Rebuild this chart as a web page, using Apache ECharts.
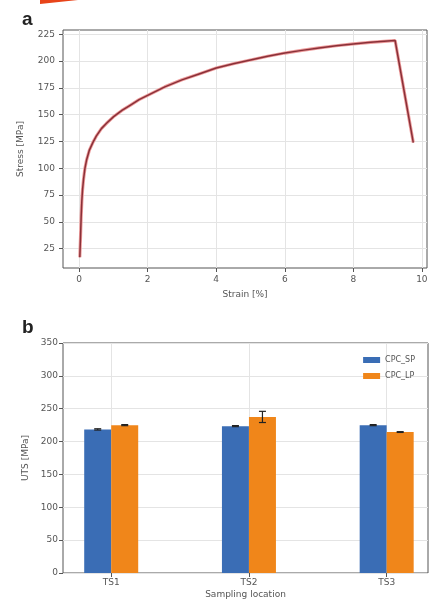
<!DOCTYPE html>
<html>
<head>
<meta charset="utf-8">
<script src="https://cdn.jsdelivr.net/npm/echarts@6/dist/echarts.min.js"></script>
<style>
  html, body { margin: 0; padding: 0; background: #fff; }
  #chart { width: 438px; height: 605px; }
</style>
</head>
<body>
<div id="chart"></div>
<script>
// (a) stress-strain curve
const strain = [0.02, 0.04, 0.06, 0.08, 0.1, 0.13, 0.17, 0.22, 0.3, 0.4, 0.5, 0.65, 0.8, 1.0, 1.25, 1.5, 1.75, 2.0, 2.5, 3.0, 3.5, 4.0, 4.5, 5.0, 5.5, 6.0, 6.5, 7.0, 7.5, 8.0, 8.5, 9.0, 9.22, 9.75]
const stress = [17, 35, 55, 70, 80, 90, 100, 108, 117, 124, 130, 137, 142, 148, 154, 159, 164, 168, 176, 182.5, 188, 193.5, 197.5, 201, 204.5, 207.5, 210, 212.3, 214.3, 216, 217.5, 218.7, 219.2, 124]
const strainTicks = [0, 2, 4, 6, 8, 10]
const stressTicks = [25, 50, 75, 100, 125, 150, 175, 200, 225]

// (b) UTS per sampling location
const locations = ['TS1', 'TS2', 'TS3']
const utsSP = [218.5, 223.5, 225]
const utsLP = [225, 237.5, 214.5]
const errSP = [1, 0.8, 0.8]
const errLP = [0.8, 8.5, 0.6]

const axisTxt = { color: '#555', fontSize: 9, fontFamily: 'DejaVu Sans' }
const gridLine = { show: true, lineStyle: { color: '#e4e4e4', width: 1 } }
const tickStyle = { show: true, length: 4, lineStyle: { color: '#555' } }
const noLine = { show: false, onZero: false }

const curve = strain.map((s, i) => [s, stress[i]])

const chart = echarts.init(document.getElementById('chart'))

chart.setOption({
  animation: false,
  backgroundColor: '#fff',
  graphic: [
    { type: 'polygon', shape: { points: [[40, 0], [78, 0], [40, 4]] }, style: { fill: '#e8441a' } },
    { type: 'text', left: 22, top: 10, style: { text: 'a', font: 'bold 19px "Liberation Sans"', fill: '#222' } },
    { type: 'text', left: 22, top: 318, style: { text: 'b', font: 'bold 19px "Liberation Sans"', fill: '#222' } }
  ],
  grid: [
    { left: 63, right: 11, top: 30, height: 238, show: true, borderColor: '#555', borderWidth: 1 },
    { left: 63, right: 10, top: 343, height: 230, show: true, borderColor: '#555', borderWidth: 1 }
  ],
  legend: {
    orient: 'vertical',
    right: 18,
    top: 351,
    itemWidth: 17,
    itemHeight: 6,
    itemGap: 8,
    icon: 'rect',
    textStyle: { color: '#555', fontSize: 8, fontFamily: 'DejaVu Sans' },
    data: ['CPC_SP', 'CPC_LP']
  },
  xAxis: [
    {
      gridIndex: 0, type: 'value', min: -0.47, max: 10.15,
      name: 'Strain [%]', nameLocation: 'middle', nameGap: 22,
      nameTextStyle: axisTxt,
      axisLine: noLine,
      axisTick: Object.assign({ customValues: strainTicks }, tickStyle),
      axisLabel: Object.assign({ customValues: strainTicks, margin: 7 }, axisTxt),
      splitLine: gridLine
    },
    {
      gridIndex: 1, type: 'value', min: -0.35, max: 2.3,
      name: 'Sampling location', nameLocation: 'middle', nameGap: 17,
      nameTextStyle: axisTxt,
      axisLine: noLine,
      axisTick: Object.assign({ customValues: [0, 1, 2] }, tickStyle),
      axisLabel: Object.assign({ customValues: [0, 1, 2], margin: 5, formatter: v => locations[Math.round(v)] }, axisTxt),
      splitLine: gridLine
    }
  ],
  yAxis: [
    {
      gridIndex: 0, type: 'value', min: 7, max: 229,
      name: 'Stress [MPa]', nameLocation: 'middle', nameGap: 38,
      nameTextStyle: axisTxt,
      axisLine: noLine,
      axisTick: Object.assign({ customValues: stressTicks }, tickStyle),
      axisLabel: Object.assign({ customValues: stressTicks, margin: 8 }, axisTxt),
      splitLine: gridLine
    },
    {
      gridIndex: 1, type: 'value', min: 0, max: 350, interval: 50,
      name: 'UTS [MPa]', nameLocation: 'middle', nameGap: 29,
      nameTextStyle: axisTxt,
      axisLine: noLine,
      axisTick: tickStyle,
      axisLabel: Object.assign({ margin: 5 }, axisTxt),
      splitLine: gridLine
    }
  ],
  series: [
    {
      type: 'line', xAxisIndex: 0, yAxisIndex: 0, data: curve,
      showSymbol: false,
      lineStyle: { color: '#ec9a9a', width: 3.2 }
    },
    {
      type: 'line', xAxisIndex: 0, yAxisIndex: 0, data: curve,
      showSymbol: false,
      lineStyle: { color: '#8a3038', width: 1.5 }
    },
    {
      name: 'CPC_SP', type: 'bar', xAxisIndex: 1, yAxisIndex: 1,
      data: utsSP.map((v, i) => [i, v]),
      barWidth: 27, barGap: '0%',
      itemStyle: { color: '#3a6db5' }
    },
    {
      name: 'CPC_LP', type: 'bar', xAxisIndex: 1, yAxisIndex: 1,
      data: utsLP.map((v, i) => [i, v]),
      barWidth: 27, barGap: '0%',
      itemStyle: { color: '#f0861a' }
    },
    {
      type: 'custom', xAxisIndex: 1, yAxisIndex: 1, z: 10,
      data: utsSP.map((v, i) => [i, v, errSP[i], -1]).concat(utsLP.map((v, i) => [i, v, errLP[i], 1])),
      renderItem: (params, api) => {
        const x = api.value(0)
        const v = api.value(1)
        const e = api.value(2)
        const side = api.value(3)
        const top = api.coord([x, v + e])
        const bot = api.coord([x, v - e])
        const cx = top[0] + side * 13.5
        const cap = 3.5
        const st = { stroke: '#222', lineWidth: 1.2 }
        return {
          type: 'group',
          children: [
            { type: 'line', shape: { x1: cx, y1: top[1], x2: cx, y2: bot[1] }, style: st },
            { type: 'line', shape: { x1: cx - cap, y1: top[1], x2: cx + cap, y2: top[1] }, style: st },
            { type: 'line', shape: { x1: cx - cap, y1: bot[1], x2: cx + cap, y2: bot[1] }, style: st }
          ]
        }
      }
    }
  ]
})
</script>
</body>
</html>
